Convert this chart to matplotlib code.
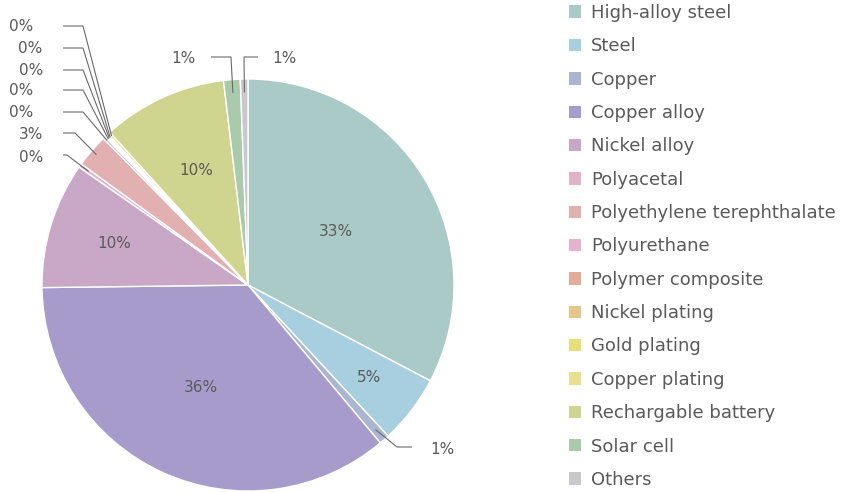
import matplotlib
matplotlib.use('Agg')
import matplotlib.pyplot as plt
from matplotlib.patches import Patch
import numpy as np

plt.rcParams['font.family'] = ['DejaVu Sans']

# --- data (percent share) ---
materials = ["High-alloy steel", "Steel", "Copper", "Copper alloy", "Nickel alloy",
             "Polyacetal", "Polyethylene terephthalate", "Polyurethane",
             "Polymer composite", "Nickel plating", "Gold plating", "Copper plating",
             "Rechargable battery", "Solar cell", "Others"]
shares = [32.7, 5.4, 0.8, 35.9, 9.9, 0.3, 2.6, 0.2, 0.1, 0.1, 0.1, 0.2, 9.8, 1.3, 0.6]
colors = ["#aacac8", "#a8cfe0", "#a8b6d2", "#a79bcb", "#c9a7c6", "#e3b1c8", "#e2b0b0",
          "#e8b1cd", "#e3ae98", "#e7c68e", "#e9df79", "#e7e08f", "#cfd48f", "#a9cbab",
          "#c9c9cd"]

TXT = "#5a5a5a"
LINE = "#6a6a6a"

# figure: 850x492 px, pie centre at (248, 285) px, radius 206 px
W, H = 850, 492
CX, CY, R = 248, 285, 206


def px(x, y):
    """pixel position -> data coords (pie radius = 1)"""
    return (x - CX) / R, (CY - y) / R


fig = plt.figure(figsize=(W / 100, H / 100), dpi=100)
ax = fig.add_axes([0, 0, 1, 1])

wedges, _ = ax.pie(shares, colors=colors, startangle=90, counterclock=False,
                   radius=1, wedgeprops=dict(edgecolor='white', linewidth=1.0))

ax.set_xlim(px(0, 0)[0], px(W, 0)[0])
ax.set_ylim(px(0, H)[1], px(0, 0)[1])
ax.set_aspect('auto')
ax.axis('off')

# mid angle of every slice, clockwise from 12 o'clock
cum = np.cumsum(shares)
mids = (cum - np.array(shares) / 2) / cum[-1] * 2 * np.pi


def at(i, r):
    return r * np.sin(mids[i]), r * np.cos(mids[i])


def pct(i):
    return f"{round(shares[i])}%"


# labels inside the big slices (slice index -> radial fraction)
inside = {0: 0.50, 1: 0.74, 3: 0.55, 4: 0.68, 12: 0.61}
for i, rf in inside.items():
    x, y = at(i, rf)
    ax.text(x, y, pct(i), ha='center', va='center', fontsize=11, color=TXT)

# labels outside with elbow leaders: index, anchor radius, elbow px, line end px, text px, ha
outside = [
    (5, 0.95, (67, 155), (63, 155), (43, 157), 'right'),
    (6, 0.97, (75, 133), (63, 133), (43, 135), 'right'),
    (7, 0.98, (83, 112), (63, 112), (33, 113), 'right'),
    (8, 0.98, (83, 90), (63, 90), (33, 91), 'right'),
    (9, 0.98, (83, 70), (63, 70), (43, 71), 'right'),
    (10, 0.98, (83, 48), (63, 48), (42, 49), 'right'),
    (11, 0.98, (83, 26), (63, 26), (33, 27), 'right'),
    (13, 0.935, (231, 57), (211, 57), (196, 59), 'right'),
    (14, 0.935, (244, 57), (258, 57), (272, 59), 'left'),
    (2, 0.935, (397, 447), (412, 447), (430, 449), 'left'),
]
for i, ra, elbow, end, tpos, ha in outside:
    ax0, ay0 = at(i, ra)
    ex, ey = px(*elbow)
    lx, ly = px(*end)
    ax.plot([ax0, ex, lx], [ay0, ey, ly], color=LINE, lw=0.8, solid_capstyle='butt')
    tx, ty = px(*tpos)
    ax.text(tx, ty, pct(i), ha=ha, va='center', fontsize=11, color=TXT)

# legend on the right
handles = [Patch(facecolor=c, edgecolor='none') for c in colors]
fig.legend(handles, materials, loc='upper left', bbox_to_anchor=(569 / W, 1 - 4 / H),
           frameon=False, fontsize=13, labelcolor=TXT, labelspacing=0.85,
           handlelength=0.68, handleheight=0.68, handletextpad=0.55,
           borderpad=0, borderaxespad=0)

fig.savefig("out.png", dpi=100)
